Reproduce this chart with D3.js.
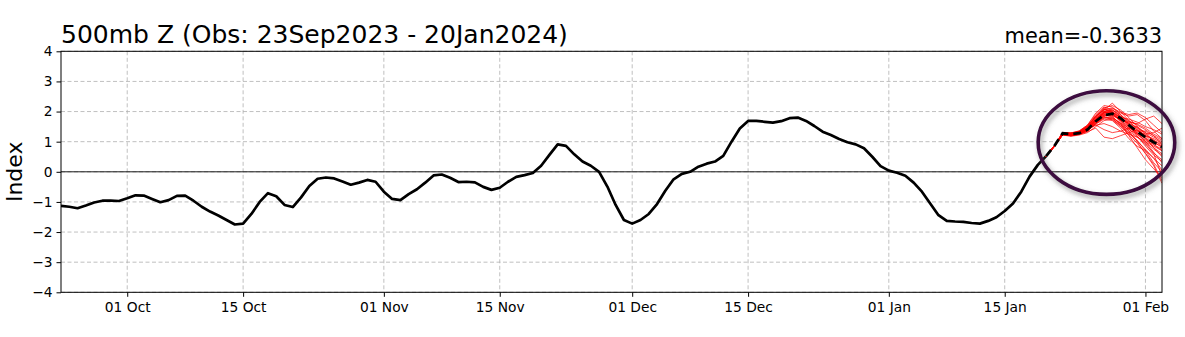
<!DOCTYPE html>
<html>
<head>
<meta charset="utf-8">
<script src="https://cdn.jsdelivr.net/npm/d3@7"></script>
<style>
  html, body { margin: 0; padding: 0; background: #fff; }
  svg { display: block; font-family: "DejaVu Sans", sans-serif; }
</style>
</head>
<body>
<svg id="chart" width="1185" height="337"></svg>
<script>
// ---------------- data ----------------
const titleText = "500mb Z (Obs: 23Sep2023 - 20Jan2024)";
const meanText = "mean=-0.3633";
const startDate = "2023-09-23";
const endDate = "2024-02-03";
const xTickDates = ["2023-10-01","2023-10-15","2023-11-01","2023-11-15","2023-12-01","2023-12-15","2024-01-01","2024-01-15","2024-02-01"];
const yTicks = [-4, -3, -2, -1, 0, 1, 2, 3, 4];

// observed daily index, starting 23 Sep 2023
const obsValues = [
  -1.13, -1.16, -1.21, -1.12, -1.02, -0.96, -0.96, -0.97, -0.88, -0.78,
  -0.79, -0.90, -1.01, -0.94, -0.80, -0.79, -0.96, -1.16, -1.32, -1.45,
  -1.60, -1.75, -1.72, -1.40, -1.00, -0.71, -0.81, -1.10, -1.17, -0.85,
  -0.47, -0.23, -0.19, -0.22, -0.32, -0.43, -0.36, -0.27, -0.33, -0.66,
  -0.90, -0.94, -0.74, -0.58, -0.36, -0.12, -0.09, -0.20, -0.34, -0.33,
  -0.35, -0.50, -0.60, -0.53, -0.33, -0.17, -0.11, -0.04, 0.20, 0.56,
  0.91, 0.86, 0.58, 0.34, 0.20, 0.00, -0.49, -1.10, -1.60, -1.72,
  -1.60, -1.40, -1.07, -0.63, -0.25, -0.07, 0.00, 0.17, 0.27, 0.34,
  0.53, 1.00, 1.44, 1.69, 1.69, 1.66, 1.63, 1.68, 1.78, 1.80,
  1.69, 1.52, 1.33, 1.22, 1.09, 0.98, 0.91, 0.78, 0.50, 0.19,
  0.04, -0.03, -0.13, -0.36, -0.66, -1.05, -1.44, -1.63, -1.65, -1.66,
  -1.70, -1.72, -1.63, -1.51, -1.30, -1.05, -0.66, -0.16, 0.23, 0.52
];

// forecast dates (20 Jan .. 3 Feb 2024)
const fcstDates = ["2024-01-20","2024-01-21","2024-01-22","2024-01-23","2024-01-24","2024-01-25","2024-01-26","2024-01-27","2024-01-28","2024-01-29","2024-01-30","2024-01-31","2024-02-01","2024-02-02","2024-02-03"];

// ensemble members
const member01 = [0.52,0.86,1.30,1.28,1.35,1.55,1.90,2.15,2.05,1.85,1.70,1.55,1.40,1.20,1.05];
const member02 = [0.52,0.84,1.25,1.20,1.25,1.35,1.62,1.85,1.98,1.80,1.50,1.25,1.00,0.75,0.55];
const member03 = [0.52,0.87,1.28,1.30,1.32,1.48,1.80,2.05,2.28,2.00,1.70,1.40,1.10,0.80,0.50];
const member04 = [0.52,0.85,1.22,1.18,1.22,1.30,1.50,1.70,1.75,1.55,1.30,1.05,0.70,0.30,0.00];
const member05 = [0.52,0.86,1.27,1.24,1.30,1.45,1.75,2.00,2.10,1.95,1.85,1.90,1.70,1.35,1.10];
const member06 = [0.52,0.83,1.24,1.21,1.26,1.38,1.60,1.78,1.80,1.60,1.20,0.80,0.40,0.10,-0.20];
const member07 = [0.52,0.86,1.29,1.27,1.33,1.50,1.85,2.10,2.00,1.70,1.45,1.30,1.20,1.10,0.95];
const member08 = [0.52,0.85,1.26,1.22,1.28,1.40,1.55,1.60,1.50,1.35,1.25,1.15,1.00,0.85,0.70];
const member09 = [0.52,0.84,1.23,1.19,1.24,1.33,1.45,1.15,1.10,1.20,1.30,1.40,1.20,0.90,0.70];
const member10 = [0.52,0.87,1.31,1.29,1.36,1.55,1.95,2.20,2.15,1.90,1.65,1.60,1.75,1.85,1.60];
const member11 = [0.52,0.85,1.25,1.23,1.29,1.42,1.70,1.95,1.95,1.65,1.35,1.00,0.60,0.20,-0.38];
const member12 = [0.52,0.86,1.27,1.25,1.31,1.46,1.78,2.02,1.90,1.75,1.60,1.45,1.30,1.15,1.00];
const member13 = [0.52,0.84,1.24,1.22,1.27,1.40,1.68,1.90,1.85,1.55,1.40,1.25,1.05,0.90,0.75];
const member14 = [0.52,0.85,1.26,1.24,1.30,1.44,1.72,1.96,2.05,1.90,1.60,1.30,1.00,0.65,0.30];
const member15 = [0.52,0.86,1.28,1.26,1.34,1.52,1.82,2.08,1.98,1.80,1.75,1.65,1.50,1.40,1.25];
const member16 = [0.52,0.83,1.23,1.20,1.25,1.36,1.58,1.75,1.70,1.45,1.10,0.85,0.70,0.45,0.20];
const member17 = [0.52,0.86,1.28,1.25,1.31,1.47,1.76,1.98,1.92,1.70,1.50,1.35,1.25,1.30,1.45];
const member18 = [0.52,0.85,1.25,1.22,1.28,1.41,1.66,1.88,1.82,1.60,1.35,1.15,0.95,0.60,-0.15];
const member19 = [0.52,0.87,1.30,1.28,1.34,1.52,1.86,2.12,2.20,2.05,1.80,1.50,1.25,1.05,0.85];
const member20 = [0.52,0.84,1.24,1.21,1.26,1.38,1.62,1.82,1.78,1.62,1.45,1.35,1.35,1.20,0.90];
const member21 = [0.52,0.86,1.27,1.25,1.31,1.45,1.74,1.99,2.05,1.85,1.55,1.20,0.85,0.55,0.35];
const member22 = [0.52,0.85,1.26,1.23,1.28,1.42,1.70,1.92,1.88,1.72,1.62,1.48,1.15,0.80,0.60];
const member23 = [0.52,0.86,1.27,1.26,1.30,1.43,1.55,1.40,1.30,1.35,1.45,1.50,1.30,1.00,0.80];
const member24 = [0.52,0.85,1.26,1.24,1.29,1.44,1.73,1.97,1.95,1.78,1.52,1.28,1.10,0.95,0.85];
const member25 = [0.52,0.86,1.29,1.26,1.32,1.49,1.83,2.06,2.12,1.98,1.90,1.95,1.80,1.55,1.30];
const member26 = [0.52,0.84,1.24,1.21,1.27,1.39,1.64,1.84,1.72,1.50,1.28,1.02,0.75,0.45,0.05];
const member27 = [0.52,0.85,1.26,1.23,1.29,1.43,1.71,1.94,2.00,1.82,1.58,1.38,1.20,1.05,0.90];
const member28 = [0.52,0.86,1.28,1.27,1.33,1.50,1.84,2.07,1.96,1.68,1.42,1.18,0.90,0.62,0.40];
const member29 = [0.52,0.85,1.25,1.22,1.27,1.40,1.67,1.89,1.86,1.74,1.66,1.58,1.45,1.25,1.10];
const member30 = [0.52,0.84,1.23,1.20,1.25,1.37,1.60,1.80,1.76,1.52,1.22,0.95,0.62,0.25,-0.30];
const members = [member01,member02,member03,member04,member05,member06,member07,member08,member09,member10,member11,member12,member13,member14,member15,member16,member17,member18,member19,member20,member21,member22,member23,member24,member25,member26,member27,member28,member29,member30];

// ensemble mean (dashed)
const ensMean = [0.52,0.86,1.28,1.25,1.28,1.40,1.68,1.88,1.93,1.78,1.55,1.33,1.15,0.98,0.82];

// highlight ellipse annotation (data units): center date, center value, half-width days, half-height value
const ringCenterDate = "2024-01-27T07:00";
const ringCenterValue = 0.97;
const ringHalfDays = 8.25;
const ringHalfValue = 1.72;

// ---------------- layout ----------------
const W = 1185, H = 337;
const margin = { left: 61, right: 23, top: 51.3, bottom: 44.7 };
const iw = W - margin.left - margin.right;
const ih = H - margin.top - margin.bottom;

const parse = d3.utcParse("%Y-%m-%d");
const parseT = d3.utcParse("%Y-%m-%dT%H:%M");
const start = parse(startDate);
const obsDates = obsValues.map((v, i) => d3.utcDay.offset(start, i));

const x = d3.scaleUtc().domain([start, parse(endDate)]).range([0, iw]);
const y = d3.scaleLinear().domain([-4, 4]).range([ih, 0]);

const svg = d3.select("#chart");
const defs = svg.append("defs");
defs.append("clipPath").attr("id", "plotclip")
  .append("rect").attr("x", 0).attr("y", 0).attr("width", iw).attr("height", ih);
const f = defs.append("filter").attr("id", "shadow")
  .attr("x", "-20%").attr("y", "-20%").attr("width", "140%").attr("height", "140%");
f.append("feDropShadow").attr("dx", 2).attr("dy", 3).attr("stdDeviation", 2.5)
  .attr("flood-color", "#555").attr("flood-opacity", 0.55);

const g = svg.append("g").attr("transform", `translate(${margin.left},${margin.top})`);

// grid
const gridColor = "#b0b0b0";
g.append("g").selectAll("line").data(yTicks).join("line")
  .attr("x1", 0).attr("x2", iw)
  .attr("y1", d => y(d)).attr("y2", d => y(d))
  .attr("stroke", gridColor).attr("stroke-width", 0.8).attr("stroke-dasharray", "4,2.5");
g.append("g").selectAll("line").data(xTickDates).join("line")
  .attr("x1", d => x(parse(d))).attr("x2", d => x(parse(d)))
  .attr("y1", 0).attr("y2", ih)
  .attr("stroke", gridColor).attr("stroke-width", 0.8).attr("stroke-dasharray", "4,2.5");

// zero line
g.append("line").attr("x1", 0).attr("x2", iw).attr("y1", y(0)).attr("y2", y(0))
  .attr("stroke", "#000").attr("stroke-width", 0.9);

const plot = g.append("g").attr("clip-path", "url(#plotclip)");

// observed line
const line = d3.line().x(d => x(d[0])).y(d => y(d[1]));
plot.append("path")
  .datum(obsDates.map((d, i) => [d, obsValues[i]]))
  .attr("d", line).attr("fill", "none").attr("stroke", "#000")
  .attr("stroke-width", 2.7).attr("stroke-linejoin", "round");

// ensemble members
const fDates = fcstDates.map(parse);
plot.append("g").selectAll("path").data(members).join("path")
  .attr("d", m => line(fDates.map((d, i) => [d, m[i]])))
  .attr("fill", "none").attr("stroke", "#ff0000").attr("stroke-opacity", 0.8)
  .attr("stroke-width", 0.9);

// ensemble mean
plot.append("path")
  .datum(fDates.map((d, i) => [d, ensMean[i]]))
  .attr("d", line).attr("fill", "none").attr("stroke", "#000")
  .attr("stroke-width", 2.8).attr("stroke-dasharray", "8,5");

// frame
g.append("rect").attr("x", 0).attr("y", 0).attr("width", iw).attr("height", ih)
  .attr("fill", "none").attr("stroke", "#000").attr("stroke-width", 1);

// axes
const xAxis = d3.axisBottom(x).tickValues(xTickDates.map(parse))
  .tickFormat(d3.utcFormat("%d %b")).tickSize(4.5).tickPadding(5);
const xa = g.append("g").attr("transform", `translate(0,${ih})`).call(xAxis);
const yAxis = d3.axisLeft(y).tickValues(yTicks)
  .tickFormat(d => d < 0 ? "\u2212" + Math.abs(d) : String(d)).tickSize(4.5).tickPadding(4);
const ya = g.append("g").call(yAxis);
[xa, ya].forEach(a => {
  a.select(".domain").remove();
  a.selectAll(".tick line").attr("stroke", "#000").attr("stroke-width", 1);
  a.selectAll(".tick text").attr("fill", "#000")
    .style("font-family", "DejaVu Sans").style("font-size", "13.8px");
});

// highlight ellipse
const cx = x(parseT(ringCenterDate));
const cy = y(ringCenterValue);
const rx = x(d3.utcHour.offset(parseT(ringCenterDate), ringHalfDays * 24)) - cx;
const ry = y(ringCenterValue - ringHalfValue) - cy;
g.append("ellipse").attr("cx", cx).attr("cy", cy).attr("rx", rx).attr("ry", ry)
  .attr("fill", "none").attr("stroke", "#3d0a3f").attr("stroke-width", 3.6)
  .attr("filter", "url(#shadow)");

// title texts
svg.append("text").attr("x", margin.left).attr("y", 43)
  .style("font-size", "25px").attr("fill", "#000").text(titleText);
svg.append("text").attr("x", margin.left + iw).attr("y", 43).attr("text-anchor", "end")
  .style("font-size", "20.9px").attr("fill", "#000").text(meanText);

// y label
svg.append("text").attr("transform", `translate(21.5,${margin.top + ih / 2}) rotate(-90)`)
  .attr("text-anchor", "middle").style("font-size", "22px").attr("fill", "#000").text("Index");
</script>
</body>
</html>
